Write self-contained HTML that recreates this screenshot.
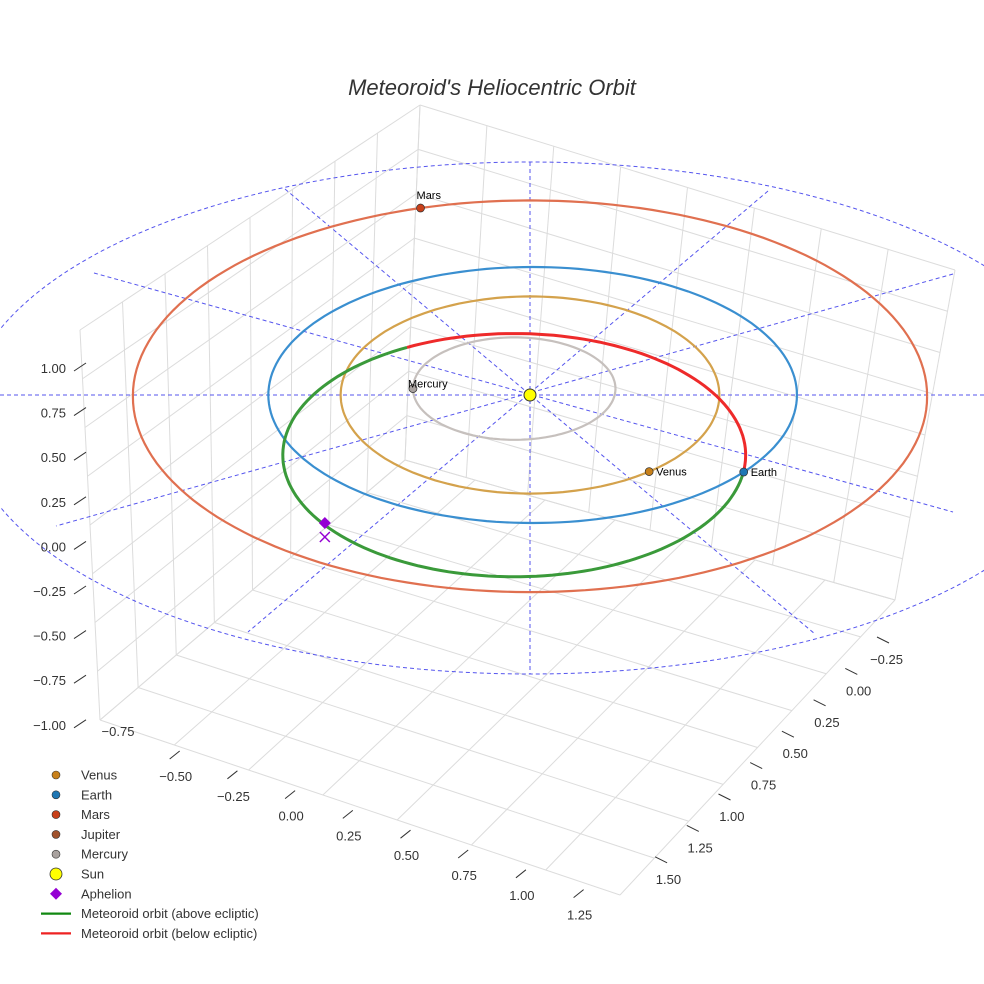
<!DOCTYPE html>
<html><head><meta charset="utf-8"><style>
body{margin:0;background:#fff}
svg{display:block;font-family:"Liberation Sans",sans-serif}
</style></head><body>
<svg id="c" width="984" height="984" viewBox="0 0 984 984">
<rect width="984" height="984" fill="#fff"/>
<g id="grid"></g>
<g id="eclip"></g>
<g id="orbits"></g>
<g id="marks"></g>
<g id="ticks" font-size="13" fill="#333"></g>
<text x="492" y="95" text-anchor="middle" font-size="22" font-style="italic" fill="#333">Meteoroid's Heliocentric Orbit</text>
<g id="legend" font-size="13" fill="#333"></g>
</svg>
<script>
// orbital data (AU)
const planetNames=["Mercury","Venus","Earth","Mars"];
const planetA=[0.385,0.72,1.005,1.51];
const planetB=[0.40,0.77,1.0,1.53];
const planetCx=[-0.06,0,0.01,0.0];
const planetCy=[-0.05,0,0,0.01];
const planetColors=["#c6c0bd","#d4a24c","#3a8fd0","#e07050"];
const planetAngles=[180,51,37,-106];
const planetMarker=["#a9a29f","#c8801a","#1f77b4","#c8401a"];
const meteoroid={cx:-0.06,cy:0.47,a:0.88,b:0.95};
const redStart=-117.6, redEnd=8.5;
const aphelion=[-0.78,1.0];
const zTicks=["1.00","0.75","0.50","0.25","0.00","−0.25","−0.50","−0.75","−1.00"];
const xTicks=["−0.75","−0.50","−0.25","0.00","0.25","0.50","0.75","1.00","1.25"];
const yTicks=["−0.25","0.00","0.25","0.50","0.75","1.00","1.25","1.50"];
const NS="http://www.w3.org/2000/svg";
const SX=530,SY=395,KX=263,KY=128;
const px=X=>SX+KX*X, py=Y=>SY+KY*Y;
function mk(t,a,p){const e=document.createElementNS(NS,t);for(const k in a)e.setAttribute(k,a[k]);(p||document.getElementById('c')).appendChild(e);return e;}
const G=id=>document.getElementById(id);
// grid box (bilinear walls)
const grid=G('grid');
const gl=(a,b,c)=>mk('line',{x1:a[0],y1:a[1],x2:b[0],y2:b[1],stroke:c||'#dcdcdc','stroke-width':1},grid);
const L=(a,b,t)=>[a[0]+(b[0]-a[0])*t,a[1]+(b[1]-a[1])*t];
function wall(p00,p10,p11,p01,nu,nv){
 for(let i=0;i<=nu;i++){const t=i/nu;gl(L(p00,p10,t),L(p01,p11,t));}
 for(let j=0;j<=nv;j++){const t=j/nv;gl(L(p00,p01,t),L(p10,p11,t));}
}
const TL=[80,330],TB=[420,105],TR=[955,270],BL=[100,720],BB=[405,460],BR=[895,600],BF=[620,895];
wall(TL,TB,BB,BL,8,8);
wall(TB,TR,BR,BB,8,8);
wall(BL,BB,BR,BF,8,7);
// ecliptic guides
const ec=G('eclip');
const ECY=418;
mk('ellipse',{cx:SX,cy:ECY,rx:565,ry:256,fill:'none',stroke:'#5555ee','stroke-width':1,'stroke-dasharray':'4,3'},ec);
const spokes=[[285,189,815,634],[94,273,953,512],[768,191,248,632],[953,274,56,526],[0,395,984,395],[530,162,530,674]];
spokes.forEach(s=>{
 const l=mk('line',{x1:s[0],y1:s[1],x2:s[2],y2:s[3],stroke:'#5555ee','stroke-width':1,'stroke-dasharray':'4,3'},ec);
 
 });
// orbits
const ob=G('orbits');
function ell(cx,cy,a,b,t0,t1){let d='';const n=Math.ceil((t1-t0)/2);for(let k=0;k<=n;k++){const t=t0+(t1-t0)*k/n;const r=t*Math.PI/180;d+=(d?'L':'M')+px(cx+a*Math.cos(r)).toFixed(1)+','+py(cy+b*Math.sin(r)).toFixed(1);}return d;}
planetNames.forEach((n,i)=>{const p=mk('path',{d:ell(planetCx[i],planetCy[i],planetA[i],planetB[i],0,360),fill:'none',stroke:planetColors[i],'stroke-width':2.2},ob);
 
 });
const m=meteoroid;
const gp=mk('path',{d:ell(m.cx,m.cy,m.a,m.b,redEnd,redStart+360),fill:'none',stroke:'#3a9a3a','stroke-width':3},ob);


const rp=mk('path',{d:ell(m.cx,m.cy,m.a,m.b,redStart,redEnd),fill:'none',stroke:'#ee2a2a','stroke-width':3},ob);


// markers
const mg=G('marks');
planetNames.forEach((n,i)=>{const r=planetAngles[i]*Math.PI/180;const x=px(planetCx[i]+planetA[i]*Math.cos(r)),y=py(planetCy[i]+planetB[i]*Math.sin(r));
 const c=mk('circle',{cx:x,cy:y,r:4,fill:planetMarker[i],stroke:'#333','stroke-width':0.7},mg);
 
 
 const tx=n==='Mars'?x-4:(n==='Mercury'?x-5:x+7),ty=n==='Mars'?y-9:(n==='Mercury'?y-1:y+4);
 const t=mk('text',{x:tx,y:ty,'font-size':11,fill:'#000'},mg);t.textContent=n;
 
 });
const sun=mk('circle',{cx:SX,cy:SY,r:6,fill:'#ffff00',stroke:'#333','stroke-width':1},mg);


const ax=px(aphelion[0]),ay=py(aphelion[1]);
const ap=mk('path',{d:`M${ax},${ay-6}L${ax+6},${ay}L${ax},${ay+6}L${ax-6},${ay}Z`,fill:'#9400d3'},mg);


const xm=mk('path',{d:`M${ax-5},${ay+9}L${ax+5},${ay+19}M${ax+5},${ay+9}L${ax-5},${ay+19}`,stroke:'#9400d3','stroke-width':1.5},mg);


// ticks
const tk=G('ticks');
zTicks.forEach((s,i)=>{const y=373+44.6*i;const t=mk('text',{x:66,y:y,'text-anchor':'end'},tk);t.textContent=s;
 
 
 mk('line',{x1:74,y1:y-2,x2:86,y2:y-10,stroke:'#333'},tk);});
xTicks.forEach((s,i)=>{const x=118+57.7*i,y=i===0?736:781+19.8*(i-1);const t=mk('text',{x:x,y:y,'text-anchor':'middle'},tk);t.textContent=s;
 
 
 if(i>0) mk('line',{x1:x-6,y1:y-22,x2:x+4,y2:y-30,stroke:'#333'},tk);});
yTicks.forEach((s,i)=>{const x=903-31.7*i,y=664+31.4*i;const t=mk('text',{x:x,y:y,'text-anchor':'end'},tk);t.textContent=s;
 
 
 mk('line',{x1:x-26,y1:y-27,x2:x-14,y2:y-21,stroke:'#333'},tk);});
// legend
const lg=G('legend');
const legNames=["Venus","Earth","Mars","Jupiter","Mercury","Sun","Aphelion","Meteoroid orbit (above ecliptic)","Meteoroid orbit (below ecliptic)"];
const legColors=["#c8801a","#1f77b4","#c8401a","#a0522d","#a9a29f","#ffff00","#9400d3","#118811","#ee2222"];
legNames.forEach((n,i)=>{const y=775+19.8*i;
 if(i<5){mk('circle',{cx:56,cy:y,r:4,fill:legColors[i],stroke:'#333','stroke-width':0.6},lg);}
 else if(i===5){mk('circle',{cx:56,cy:y,r:6,fill:legColors[i],stroke:'#333','stroke-width':0.8},lg);}
 else if(i===6){mk('path',{d:`M56,${y-6}L62,${y}L56,${y+6}L50,${y}Z`,fill:legColors[i]},lg);}
 else{mk('line',{x1:41,y1:y,x2:71,y2:y,stroke:legColors[i],'stroke-width':2.2},lg);}
 const t=mk('text',{x:81,y:y+4.5},lg);t.textContent=n;
 
 });
</script>
</body></html>
